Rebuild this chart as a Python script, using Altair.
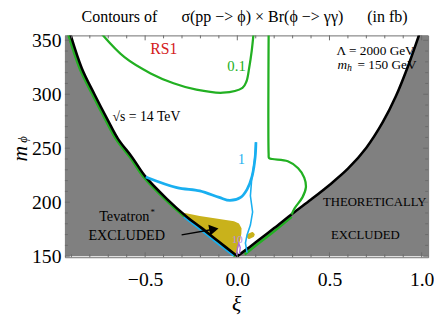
import altair as alt
import pandas as pd

# ---------------- chart values ----------------
# theoretical boundary (black curve)
left_xi = [-0.906, -0.843, -0.775, -0.701, -0.647, -0.570, -0.498, -0.381, -0.275, -0.195, -0.105, 0.0]
left_m = [356.0, 323.9, 300.0, 275.6, 258.7, 241.5, 223.7, 202.9, 186.6, 176.2, 164.0, 150.0]
right_xi = [0.0, 0.05, 0.10, 0.20, 0.30, 0.40, 0.50, 0.60, 0.70, 0.789, 0.86, 0.931, 0.99]
right_m = [150.0, 156.3, 162.8, 176.0, 189.5, 202.5, 216.0, 231.0, 250.5, 274.1, 298.1, 328.3, 357.0]
x_left_edge = -0.935
x_right_edge = 1.035

# contour fringes along the boundary
fringe_gl_xi = [-0.918, -0.855, -0.787, -0.713, -0.659, -0.582, -0.510, -0.393, -0.287, -0.207, -0.117, -0.012]
fringe_gl_m = [356.0, 323.9, 300.0, 275.6, 258.7, 241.5, 223.7, 202.9, 186.6, 176.2, 164.0, 150.0]
fringe_gr_xi = [0.295, 0.20, 0.10, 0.04]
fringe_gr_m = [186.5, 173.0, 159.8, 151.5]
fringe_b_xi = [-0.29, -0.20, -0.10, -0.02]
fringe_b_m = [186.4, 174.4, 160.8, 150.5]

# 0.1 fb contour (green)
g01a_xi = [-0.736, -0.612, -0.470, -0.346, -0.222, -0.078, 0.028, 0.050, 0.064, 0.078, 0.088]
g01a_m = [356.0, 334.3, 319.3, 310.2, 304.2, 301.4, 305.9, 312.0, 324.0, 340.0, 356.0]
g01b_xi = [0.170, 0.170, 0.172, 0.190, 0.274, 0.330, 0.363, 0.372, 0.354, 0.310, 0.295]
g01b_m = [356.0, 244.5, 241.0, 240.0, 237.9, 231.5, 222.8, 213.7, 204.7, 194.1, 188.5]

# 1 fb contour (blue)
b1_xi = [-0.497, -0.328, -0.204, -0.098, -0.040, 0.018, 0.053, 0.080, 0.097, 0.101]
b1_m = [223.4, 213.5, 210.4, 204.4, 201.6, 204.4, 211.9, 224.0, 242.0, 255.6]
b1d_xi = [0.101, 0.094, 0.078, 0.071, 0.083, 0.071, 0.053, 0.044, 0.053]
b1d_m = [255.6, 239.1, 221.0, 205.9, 190.9, 178.8, 169.7, 162.2, 153.2]

# 10 fb contour (purple)
p10_xi = [-0.004, 0.0, 0.008, 0.016, 0.012]
p10_m = [151.0, 157.0, 162.0, 158.0, 152.0]

# Tevatron excluded region (left edge, right edge per mass)
tev_m = [190.9, 187.3, 184.8, 182.4, 180.3, 175.8, 171.0, 166.7, 160.7, 153.2, 150.8]
tev_left = [-0.311, -0.290, -0.272, -0.254, -0.238, -0.203, -0.168, -0.136, -0.091, -0.034, -0.012]
tev_right = [-0.311, -0.204, -0.115, -0.018, 0.009, 0.023, 0.022, 0.018, 0.009, 0.000, -0.005]
blob_m = [166.0, 168.0, 170.0, 171.5, 172.3]
blob_left = [0.060, 0.050, 0.052, 0.068, 0.080]
blob_right = [0.066, 0.090, 0.095, 0.090, 0.083]

# arrow
arrow_xi = [-0.302, -0.127]
arrow_m = [169.7, 174.9]

# ticks
x_major = [-0.5, 0.0, 0.5, 1.0]
x_minor = [-0.9, -0.8, -0.7, -0.6, -0.4, -0.3, -0.2, -0.1, 0.1, 0.2, 0.3, 0.4, 0.6, 0.7, 0.8, 0.9]
y_major = [150, 200, 250, 300, 350]
y_minor = [160, 170, 180, 190, 210, 220, 230, 240, 260, 270, 280, 290, 310, 320, 330, 340]

# ---------------- layout ----------------
W, H = 370, 226
FONT = "Liberation Serif"
GRAY = "#808080"
GREEN = "#22b022"
BLUE = "#19aff0"
PURPLE = "#a868e8"
GOLD = "#c9b21b"

xscale = alt.Scale(domain=[-0.935, 1.035], nice=False, zero=False)
yscale = alt.Scale(domain=[149, 354.5], nice=False, zero=False)
xaxis = alt.Axis(values=x_major, format=".1f", title=None, grid=False, ticks=False, tickSize=0,
                 domain=False, labelFont=FONT, labelFontSize=20, labelColor="black",
                 labelPadding=13, labelFlush=False)
yaxis = alt.Axis(values=y_major, format="d", title=None, grid=False, ticks=False, tickSize=0,
                 domain=False, labelFont=FONT, labelFontSize=20, labelColor="black",
                 labelPadding=4, labelFlush=False)
X = alt.X("xi:Q", scale=xscale, axis=xaxis, stack=None)
Y = alt.Y("m:Q", scale=yscale, axis=yaxis, stack=None)


def df_xy(xs, ms):
    return pd.DataFrame({"xi": xs, "m": ms, "i": list(range(len(xs)))})


def line(xs, ms, color, width, interp="catmull-rom"):
    return alt.Chart(df_xy(xs, ms)).mark_line(
        color=color, strokeWidth=width, interpolate=interp, clip=True
    ).encode(x=X, y=Y, order=alt.Order("i:Q"))


def band(ms, lefts, rights, color, interp="linear"):
    df = pd.DataFrame({"m": ms, "xi": lefts, "xi2": rights})
    return alt.Chart(df).mark_area(orient="horizontal", color=color, opacity=1, clip=True,
                                   interpolate=interp).encode(
        x=X, x2=alt.X2("xi2"), y=Y)


layers = [band(left_m, left_xi, [x_left_edge] * len(left_m), GRAY, "catmull-rom"),
          band(right_m, right_xi, [x_right_edge] * len(right_m), GRAY, "catmull-rom"),
          line(fringe_gl_xi, fringe_gl_m, GREEN, 2.5),
          line(fringe_gr_xi, fringe_gr_m, GREEN, 2.5, "linear"),
          band(tev_m, tev_left, tev_right, GOLD),
          band(blob_m, blob_left, blob_right, GOLD),
          line(fringe_b_xi, fringe_b_m, BLUE, 2.0, "linear"),
          line(left_xi, left_m, "black", 2.6),
          line(right_xi, right_m, "black", 2.6),
          line(g01a_xi, g01a_m, GREEN, 2.3),
          line(g01b_xi, g01b_m, GREEN, 2.3),
          line(b1_xi, b1_m, BLUE, 2.8),
          line(b1d_xi, b1d_m, BLUE, 1.6, "linear"),
          line(p10_xi, p10_m, PURPLE, 1.3, "linear"),
          line(arrow_xi, arrow_m, "black", 1.5, "linear"),
          alt.Chart(df_xy(arrow_xi[1:], arrow_m[1:])).mark_point(
              shape="triangle-right", filled=True, color="black", opacity=1, size=120, angle=350
          ).encode(x=X, y=Y)]

# text labels placed in data coordinates
labels = [
    ("RS1", -0.399, 341.6, "#d42020", 16, "normal", "center"),
    ("0.1", -0.004, 326.5, GREEN, 15, "normal", "center"),
    ("1", 0.022, 239.0, BLUE, 14, "normal", "center"),
    ("10", 0.0, 165.2, "#b88ae6", 11, "normal", "center"),
    ("√s = 14 TeV", -0.493, 279.3, "black", 14, "normal", "center"),
    ("Tevatron", -0.613, 186.6, "black", 14.5, "normal", "center"),
    ("*", -0.459, 191.0, "black", 9, "normal", "center"),
    ("EXCLUDED", -0.600, 168.5, "black", 14.5, "normal", "center"),
    ("THEORETICALLY", 0.745, 200.2, "black", 13, "normal", "center"),
    ("EXCLUDED", 0.695, 169.2, "black", 13, "normal", "center"),
    ("Λ = 2000 GeV", 0.538, 339.7, "black", 13.5, "normal", "left"),
    ("m", 0.543, 326.8, "black", 13.5, "italic", "left"),
    ("h", 0.595, 324.0, "black", 10, "italic", "left"),
    ("= 150 GeV", 0.652, 326.8, "black", 13.5, "normal", "left"),
]
for t, x, y, c, s, st, al in labels:
    d = pd.DataFrame({"xi": [x], "m": [y], "t": [t]})
    layers.append(alt.Chart(d).mark_text(font=FONT, fontSize=s, fontStyle=st, color=c,
                                         align=al, baseline="middle").encode(x=X, y=Y, text="t:N"))


def free_text(t, px, py, size, style="normal", angle=0):
    kw = dict(font=FONT, fontSize=size, fontStyle=style, color="black",
              align="center", baseline="middle")
    if angle:
        kw["angle"] = angle
    return alt.Chart(pd.DataFrame({"t": [t]})).mark_text(**kw).encode(
        x=alt.value(px), y=alt.value(py), text="t:N")


# titles
layers.append(free_text("Contours of\u2003\u2002σ(pp −> ϕ) × Br(ϕ −> γγ)\u2003\u2002(in fb)",
                        183, -18.5, 16.3))
layers.append(free_text("ξ", 175, 274, 22, "italic"))
layers.append(free_text("m", -46, 120.5, 22, "italic", 270))
layers.append(free_text("ϕ", -42.5, 106, 13, "italic", 270))

# frame ticks (inward, all four sides)
TC = "#6a6a6a"
for vals, ln in ((x_major, 5), (x_minor, 3)):
    d = pd.DataFrame({"xi": vals})
    layers.append(alt.Chart(d).mark_rule(color=TC, strokeWidth=1).encode(
        x=X, y=alt.value(H), y2=alt.value(H - ln)))
    layers.append(alt.Chart(d).mark_rule(color=TC, strokeWidth=1).encode(
        x=X, y=alt.value(0), y2=alt.value(ln)))
for vals, ln in ((y_major, 5), (y_minor, 3)):
    d = pd.DataFrame({"m": vals})
    layers.append(alt.Chart(d).mark_rule(color=TC, strokeWidth=1).encode(
        y=Y, x=alt.value(0), x2=alt.value(ln)))
    layers.append(alt.Chart(d).mark_rule(color=TC, strokeWidth=1).encode(
        y=Y, x=alt.value(W), x2=alt.value(W - ln)))

chart = alt.layer(*layers).properties(
    width=W, height=H,
    padding={"left": 58, "top": 25, "right": 6, "bottom": 60},
    autosize=alt.AutoSizeParams(type="none"),
    background="white",
).configure_view(stroke="#6e6e6e", strokeWidth=1)

chart.save("out.html", embed_options={"renderer": "svg", "actions": False})
